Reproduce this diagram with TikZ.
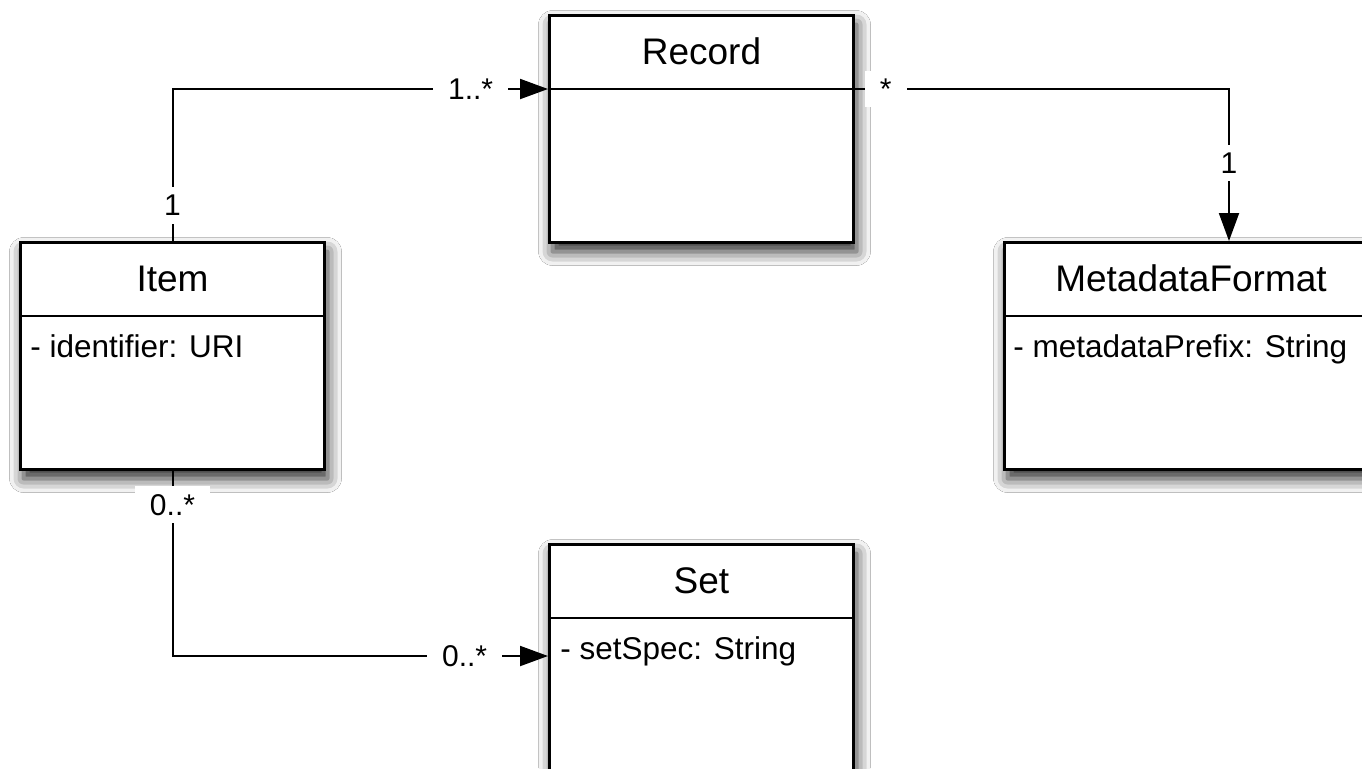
\documentclass[tikz,border=0pt]{standalone}
\usepackage{fontspec}
\setmainfont{Liberation Sans}
\usetikzlibrary{arrows.meta,calc,shadows.blur}
\begin{document}
\begin{tikzpicture}[x=0.5pt,y=-0.5pt,
  cls/.style={draw, line width=1.5pt, fill=white, anchor=north west,
    minimum width=152pt, minimum height=113.5pt, inner sep=0pt,
    blur shadow={shadow xshift=1.5pt, shadow yshift=-4.5pt, shadow blur radius=7pt, shadow opacity=85}},
  divider/.style={line width=1.4pt},
  title/.style={font=\fontsize{18.5pt}{22pt}\selectfont, inner sep=0pt},
  attr/.style={font=\fontsize{15.75pt}{19pt}\selectfont, inner sep=0pt, anchor=base west},
  conn/.style={line width=1pt, -{Triangle[length=14pt,width=10pt]}},
  lab/.style={fill=white, font=\fontsize{15pt}{18pt}\selectfont, inner xsep=7.5pt, inner ysep=4pt}
]
\useasboundingbox (0,0) rectangle (1362,768);
\fill[white] (0,0) rectangle (1362,768);
\begin{scope}
\clip (0,0) rectangle (1362,768);
% classes
\node[cls] (record) at (548,14) {};
\node[cls] (item) at (19,241) {};
\node[cls, minimum width=186.5pt] (meta) at (1003,241) {};
\node[cls] (set) at (548,543) {};

% dividers
\foreach \n in {record,item,meta,set}{
  \coordinate (\n-dw) at ($(\n.north west)+(0,75)$);
  \coordinate (\n-de) at ($(\n.north east)+(0,75)$);
  \draw[divider] (\n-dw) -- (\n-de);
}

% titles
\node[title] (record-t) at ($(record.north)+(0,37.5)$) {Record};
\node[title] (item-t) at ($(item.north)+(0,37.5)$) {Item};
\node[title] (meta-t) at ($(meta.north)+(0,37.5)$) {MetadataFormat};
\node[title] (set-t) at ($(set.north)+(0,37.5)$) {Set};

% attributes
\node[attr] (item-a) at ($(item.north west)+(11,116)$) {- identifier: URI};
\node[attr] (meta-a) at ($(meta.north west)+(10,116)$) {- metadataPrefix: String};
\node[attr] (set-a) at ($(set.north west)+(12,116)$) {- setSpec: String};

% connectors
\coordinate (meta-in) at ($(meta.north west)+(226,0)$);
\coordinate (set-in) at ($(set.north west)+(0,113)$);

\draw[conn] (item.north) |- node[lab,pos=0.117]{1} node[lab,pos=0.897]{1..*} (record-dw);
\draw[conn] (record-de) -| node[lab,pos=0.041]{*} node[lab,pos=0.743]{1} (meta-in);
\draw[conn] (item.south) |- node[lab,pos=0.091]{0..*} node[lab,pos=0.889]{0..*} (set-in);
\end{scope}
\end{tikzpicture}
\end{document}
